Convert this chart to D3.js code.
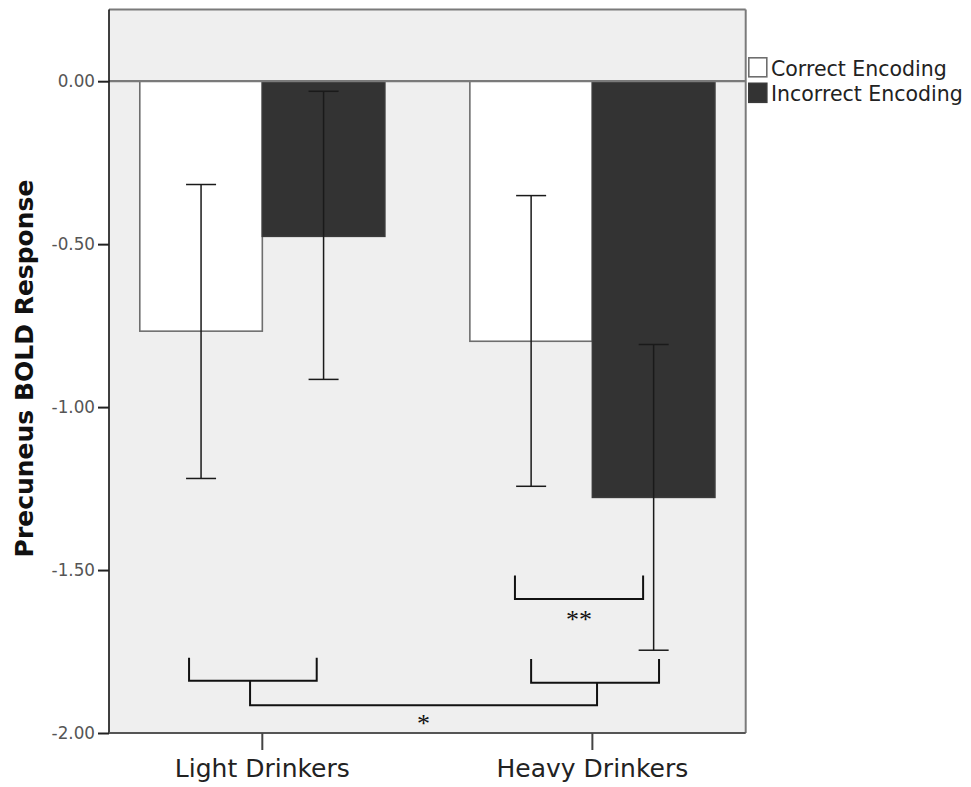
<!DOCTYPE html>
<html>
<head>
<meta charset="utf-8">
<script src="https://cdn.jsdelivr.net/npm/d3@7"></script>
<style>
  html, body { margin: 0; padding: 0; background: #ffffff; }
  svg { display: block; }
</style>
</head>
<body>
<svg id="chart" width="971" height="787"></svg>
<script>
// ---------------- data ----------------
const groups = ["Light Drinkers", "Heavy Drinkers"];
const series = ["Correct Encoding", "Incorrect Encoding"];
// mean BOLD response per group (rows) and series (columns)
const correctMeans   = [-0.767, -0.798];
const incorrectMeans = [-0.476, -1.277];
// error bar limits
const correctLow   = [-1.219, -1.243];
const correctHigh  = [-0.317, -0.351];
const incorrectLow  = [-0.915, -1.746];
const incorrectHigh = [-0.031, -0.808];
const yTickValues = [0, -0.5, -1, -1.5, -2];
const yTickLabels = ["0.00", "-0.50", "-1.00", "-1.50", "-2.00"];
const yTitle = "Precuneus BOLD Response";
// significance annotations (value units; horizontal spots as fraction of group band)
const sigBrackets = [
  { group: "Heavy Drinkers", from: 0.184, to: 0.707, top: -1.517, base: -1.589 },
  { group: "Light Drinkers", from: 0.201, to: 0.722, top: -1.769, base: -1.840 },
  { group: "Heavy Drinkers", from: 0.250, to: 0.772, top: -1.773, base: -1.846 }
];
const sigLink = { a: { group: "Light Drinkers", frac: 0.450, top: -1.840 },
                  b: { group: "Heavy Drinkers", frac: 0.519, top: -1.846 },
                  base: -1.915 };
const sigLabels = [
  { text: "**", bracket: 0, y: -1.641 },
  { text: "*", link: true, y: -1.960 }
];

// ---------------- layout ----------------
const svg = d3.select("#chart");
const L = 109, R = 745.7, T = 9.5, B = 733;

const y = d3.scaleLinear().domain([-2, 0.22]).range([B, T]);
const x0 = d3.scaleBand().domain(groups).range([L, R])
  .paddingInner(0.2576).paddingOuter(0.0933);
const x1 = d3.scaleBand().domain(series).range([0, x0.bandwidth()]).padding(0);
const fill = d3.scaleOrdinal().domain(series).range(["#ffffff", "#333333"]);
const stroke = d3.scaleOrdinal().domain(series).range(["#6e6e6e", "#3a3a3a"]);

const rows = [];
groups.forEach((g, i) => {
  rows.push({ g, s: series[0], v: correctMeans[i], lo: correctLow[i], hi: correctHigh[i] });
  rows.push({ g, s: series[1], v: incorrectMeans[i], lo: incorrectLow[i], hi: incorrectHigh[i] });
});

// background
svg.append("rect").attr("x", L).attr("y", T).attr("width", R - L).attr("height", B - T)
  .attr("fill", "#efefef");

// bars
svg.append("g").selectAll("rect").data(rows).join("rect")
  .attr("x", d => x0(d.g) + x1(d.s))
  .attr("y", d => y(Math.max(0, d.v)))
  .attr("width", x1.bandwidth())
  .attr("height", d => Math.abs(y(d.v) - y(0)))
  .attr("fill", d => fill(d.s))
  .attr("stroke", d => stroke(d.s))
  .attr("stroke-width", 1.6);

// zero line
svg.append("line").attr("x1", L).attr("x2", R).attr("y1", y(0)).attr("y2", y(0))
  .attr("stroke", "#7a7a7a").attr("stroke-width", 2.2);

// error bars
const eb = svg.append("g").attr("stroke", "#1a1a1a").attr("stroke-width", 1.5);
const cx = d => x0(d.g) + x1(d.s) + x1.bandwidth() / 2;
eb.selectAll("line.v").data(rows).join("line").attr("class", "v")
  .attr("x1", cx).attr("x2", cx).attr("y1", d => y(d.hi)).attr("y2", d => y(d.lo));
eb.selectAll("line.t").data(rows).join("line").attr("class", "t")
  .attr("x1", d => cx(d) - 15).attr("x2", d => cx(d) + 15)
  .attr("y1", d => y(d.hi)).attr("y2", d => y(d.hi));
eb.selectAll("line.b").data(rows).join("line").attr("class", "b")
  .attr("x1", d => cx(d) - 15).attr("x2", d => cx(d) + 15)
  .attr("y1", d => y(d.lo)).attr("y2", d => y(d.lo));

// significance brackets
const gx = (g, f) => x0(g) + f * x0.bandwidth();
const sg = svg.append("g").attr("fill", "none").attr("stroke", "#111").attr("stroke-width", 2);
sg.selectAll("path").data(sigBrackets).join("path")
  .attr("d", d => {
    const a = gx(d.group, d.from), b = gx(d.group, d.to);
    return `M${a},${y(d.top)}V${y(d.base)}H${b}V${y(d.top)}`;
  });
sg.append("path").attr("d", () => {
  const a = gx(sigLink.a.group, sigLink.a.frac), b = gx(sigLink.b.group, sigLink.b.frac);
  return `M${a},${y(sigLink.a.top)}V${y(sigLink.base)}H${b}V${y(sigLink.b.top)}`;
});
svg.append("g").selectAll("text").data(sigLabels).join("text")
  .attr("x", d => {
    if (d.link) return (gx(sigLink.a.group, sigLink.a.frac) + gx(sigLink.b.group, sigLink.b.frac)) / 2;
    const br = sigBrackets[d.bracket];
    return (gx(br.group, br.from) + gx(br.group, br.to)) / 2;
  })
  .attr("y", d => y(d.y) + 12)
  .attr("text-anchor", "middle")
  .attr("font-family", "Liberation Serif, Times New Roman, serif")
  .attr("font-size", 26)
  .attr("fill", "#111")
  .text(d => d.text);

// frame (top/right gray, bottom dark)
svg.append("line").attr("x1", L).attr("x2", R).attr("y1", T).attr("y2", T)
  .attr("stroke", "#7a7a7a").attr("stroke-width", 2);
svg.append("line").attr("x1", R).attr("x2", R).attr("y1", T).attr("y2", B)
  .attr("stroke", "#7a7a7a").attr("stroke-width", 2);

// y axis
const yAxis = svg.append("g").attr("transform", `translate(${L},0)`)
  .call(d3.axisLeft(y).tickValues(yTickValues)
    .tickFormat((d, i) => yTickLabels[i]).tickSize(11).tickSizeOuter(0).tickPadding(3));
yAxis.select(".domain").attr("stroke", "#111").attr("stroke-width", 1.6)
  .attr("d", `M0,${T}V${B}`);
yAxis.selectAll(".tick line").attr("stroke", "#222").attr("stroke-width", 2);
yAxis.selectAll(".tick text").attr("font-family", "DejaVu Sans, sans-serif")
  .attr("font-size", 16.8).attr("fill", "#555");

// x axis
const xAxis = svg.append("g").attr("transform", `translate(0,${B})`)
  .call(d3.axisBottom(x0).tickSize(17).tickSizeOuter(0).tickPadding(8));
xAxis.select(".domain").attr("stroke", "#555").attr("stroke-width", 2.2)
  .attr("d", `M${L},0H${R}`);
xAxis.selectAll(".tick line").attr("stroke", "#444").attr("stroke-width", 2);
xAxis.selectAll(".tick text").attr("font-family", "DejaVu Sans, sans-serif")
  .attr("font-size", 25).attr("fill", "#222").attr("y", 44).attr("dy", 0);

// y title
svg.append("text")
  .attr("transform", `translate(33,${368.5}) rotate(-90)`)
  .attr("text-anchor", "middle")
  .attr("font-family", "DejaVu Sans, sans-serif")
  .attr("font-weight", "bold")
  .attr("font-size", 25)
  .attr("fill", "#111")
  .text(yTitle);

// legend
const lg = svg.append("g").attr("transform", "translate(748,57)");
const li = lg.selectAll("g").data(series).join("g")
  .attr("transform", (d, i) => `translate(0,${i * 25.5})`);
li.append("rect").attr("x", 0.8).attr("y", 0.8).attr("width", 18).attr("height", 19)
  .attr("fill", d => fill(d)).attr("stroke", d => stroke(d)).attr("stroke-width", 1.6);
li.append("text").attr("x", 23).attr("y", 18.5)
  .attr("font-family", "DejaVu Sans, sans-serif").attr("font-size", 20.5)
  .attr("fill", "#222").text(d => d);
</script>
</body>
</html>
